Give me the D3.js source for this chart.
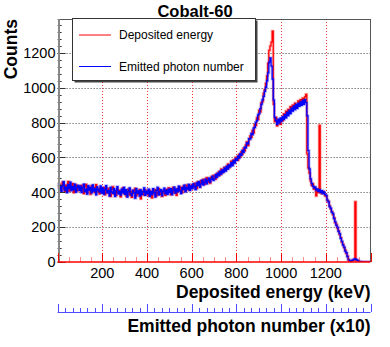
<!DOCTYPE html>
<html lang="en">
<head>
<meta charset="utf-8">
<title>Cobalt-60</title>
<script src="https://d3js.org/d3.v7.min.js"></script>
<style>
  body { margin: 0; background: #fff; }
  text { font-family: "Liberation Sans", Arial, Helvetica, sans-serif; }
</style>
</head>
<body>
<div id="chart"></div>
<script>
// ---- data (5 keV bins from 0 to 1400 keV, one row = 100 keV) ----
let binWidth = 5;
let energyMax = 1400;

// red histogram: deposited energy
let depositedCounts = [
  426, 449, 411, 437, 458, 420, 404, 441, 429, 462, 407, 434, 417, 450, 398, 426, 443, 408, 431, 422,
  409, 440, 418, 393, 431, 446, 401, 425, 413, 389, 437, 410, 428, 399, 444, 406, 420, 391, 425, 414,
  401, 429, 386, 412, 395, 423, 407, 377, 416, 432, 390, 408, 382, 420, 398, 411, 374, 403, 425, 392,
  409, 379, 397, 418, 384, 405, 371, 412, 394, 423, 380, 401, 389, 416, 362, 399, 407, 385, 414, 391,
  405, 383, 412, 396, 368, 407, 391, 415, 380, 398, 421, 387, 404, 376, 410, 395, 383, 417, 402, 426,
  411, 386, 404, 428, 397, 415, 383, 422, 407, 431, 414, 398, 435, 420, 408, 442, 425, 413, 438, 423,
  444, 426, 451, 437, 422, 460, 445, 431, 468, 452, 475, 446, 463, 484, 458, 471, 452, 488, 476, 497,
  489, 476, 507, 493, 518, 500, 534, 512, 522, 545, 527, 538, 562, 541, 555, 579, 558, 586, 574, 601,
  596, 585, 617, 603, 634, 619, 652, 638, 672, 690, 668, 702, 724, 716, 755, 741, 790, 784, 828, 818,
  870, 862, 915, 921, 968, 990, 1025, 1068, 1140, 1215, 1240, 1262, 1325, 905, 805, 830, 782, 808, 815, 790,
  826, 812, 850, 833, 866, 845, 877, 858, 892, 870, 901, 880, 912, 889, 898, 925, 905, 932, 912, 941,
  920, 948, 962, 620, 540, 510, 465, 440, 448, 418, 426, 380, 415, 398, 785, 402, 392, 405, 395, 380,
  378, 352, 348, 322, 305, 290, 272, 255, 226, 218, 195, 180, 158, 140, 114, 102, 82, 68, 50, 34,
  12, 6, 4, 7, 10, 12, 346, 11, 7, 3, 1, 0, 0, 0, 0, 0, 0, 0, 0, 0
];

// blue histogram: emitted photon number
let photonCounts = [
  452, 418, 440, 405, 437, 461, 412, 430, 398, 445, 421, 458, 409, 433, 415, 447, 401, 428, 440, 411,
  436, 399, 425, 447, 404, 419, 390, 438, 412, 429, 396, 443, 407, 421, 385, 431, 414, 402, 437, 395,
  425, 389, 416, 438, 398, 410, 380, 429, 403, 394, 421, 376, 412, 433, 391, 405, 384, 419, 397, 428,
  388, 415, 372, 404, 426, 393, 381, 412, 399, 366, 421, 395, 408, 378, 414, 386, 402, 425, 383, 407,
  392, 418, 376, 405, 387, 421, 398, 373, 410, 429, 385, 402, 416, 381, 407, 424, 393, 411, 388, 419,
  398, 421, 387, 412, 430, 395, 418, 404, 436, 409, 392, 427, 415, 441, 403, 429, 418, 446, 411, 437,
  421, 448, 433, 416, 455, 438, 462, 429, 447, 470, 441, 458, 476, 449, 467, 482, 459, 474, 491, 468,
  478, 502, 486, 511, 495, 521, 504, 529, 515, 540, 522, 551, 533, 558, 546, 571, 553, 582, 567, 594,
  583, 608, 596, 622, 612, 641, 629, 660, 655, 684, 678, 709, 706, 738, 731, 768, 772, 801, 812, 845,
  852, 880, 905, 932, 951, 980, 1002, 1040, 1085, 1148, 1172, 1125, 1050, 930, 830, 812, 790, 820, 798, 826,
  808, 835, 818, 846, 827, 859, 840, 871, 852, 884, 866, 895, 874, 905, 882, 911, 893, 920, 899, 928,
  905, 932, 915, 840, 640, 535, 478, 452, 436, 425, 431, 412, 420, 405, 415, 398, 410, 392, 402, 388,
  382, 356, 345, 318, 309, 286, 279, 249, 231, 210, 201, 175, 163, 135, 119, 97, 86, 63, 54, 30,
  14, 8, 6, 9, 13, 17, 18, 14, 10, 5, 3, 2, 1, 0, 0, 0, 0, 0, 0, 0
];

let energyTicks = [200, 400, 600, 800, 1000, 1200];
let countTicks = [0, 200, 400, 600, 800, 1000, 1200];
let legendLabels = ["Deposited energy", "Emitted photon number"];
let legendColors = ["#ff0000", "#0000ff"];

// ---- layout ----
let width = 390, height = 347;
let frame = {left: 57.6, right: 370.5, top: 19, bottom: 262};

let svg = d3.select("#chart").append("svg")
  .attr("width", width)
  .attr("height", height);

let x = d3.scaleLinear().domain([0, energyMax]).range([frame.left, frame.right]);
let y = d3.scaleLinear().domain([0, 1395]).range([frame.bottom, frame.top]);

// clip for histograms
svg.append("clipPath").attr("id", "clip")
  .append("rect")
  .attr("x", frame.left).attr("y", frame.top)
  .attr("width", frame.right - frame.left).attr("height", frame.bottom - frame.top);

// ---- grid ----
svg.append("g").selectAll("line").data(countTicks.filter(d => d > 0)).join("line")
  .attr("x1", frame.left).attr("x2", frame.right)
  .attr("y1", d => Math.round(y(d)) + 0.5).attr("y2", d => Math.round(y(d)) + 0.5)
  .attr("stroke", "#444").attr("stroke-width", 1).attr("stroke-dasharray", "1,2");

svg.append("g").selectAll("line").data(energyTicks).join("line")
  .attr("x1", d => Math.round(x(d)) + 0.5).attr("x2", d => Math.round(x(d)) + 0.5)
  .attr("y1", frame.top).attr("y2", frame.bottom)
  .attr("stroke", "#f33").attr("stroke-width", 1).attr("stroke-dasharray", "1,2");

// ---- histograms ----
function stepPoints(values) {
  let pts = values.map((v, i) => [i * binWidth, v]);
  pts.push([energyMax, values[values.length - 1]]);
  return pts;
}

let step = d3.line()
  .x(d => x(d[0]))
  .y(d => y(d[1]))
  .curve(d3.curveStepAfter);

let plot = svg.append("g").attr("clip-path", "url(#clip)");

// pale halo underneath, then the line itself (red first, blue on top)
[[depositedCounts, "#ff0000"], [photonCounts, "#0000ff"]].forEach(function(s) {
  plot.append("path")
    .attr("d", step(stepPoints(s[0])))
    .attr("fill", "none").attr("stroke", s[1])
    .attr("stroke-width", 2.8).attr("stroke-opacity", 0.3);
  plot.append("path")
    .attr("d", step(stepPoints(s[0])))
    .attr("fill", "none").attr("stroke", s[1]).attr("stroke-width", 1.2);
});

// ---- frame ----
svg.append("line")
  .attr("x1", frame.left).attr("x2", frame.right)
  .attr("y1", frame.top + 0.5).attr("y2", frame.top + 0.5)
  .attr("stroke", "#555");
svg.append("line")
  .attr("x1", frame.right).attr("x2", frame.right)
  .attr("y1", frame.top).attr("y2", frame.bottom)
  .attr("stroke", "#555");

// ---- y axis (left) ----
let yMinor = d3.range(0, 1395, 40);
svg.append("g").selectAll("line").data(yMinor).join("line")
  .attr("x1", frame.left).attr("x2", d => frame.left + (d % 200 === 0 ? 8 : 4))
  .attr("y1", d => Math.round(y(d)) + 0.5).attr("y2", d => Math.round(y(d)) + 0.5)
  .attr("stroke", "#333");
svg.append("line")
  .attr("x1", 59).attr("x2", 59)
  .attr("y1", frame.top).attr("y2", frame.bottom)
  .attr("stroke", "#888").attr("stroke-width", 2);

svg.append("g").selectAll("text").data(countTicks).join("text")
  .attr("x", 55.5).attr("y", d => y(d))
  .attr("dy", "0.36em")
  .attr("text-anchor", "end")
  .attr("font-size", 14.5)
  .text(d => d);

svg.append("text")
  .attr("transform", "translate(17," + frame.top + ") rotate(-90)")
  .attr("text-anchor", "end")
  .attr("font-size", 17.5).attr("font-weight", "bold")
  .text("Counts");

// ---- x axis (deposited energy, red) ----
let xMinor = d3.range(0, energyMax + 1, 50);
svg.append("g").selectAll("line").data(xMinor).join("line")
  .attr("x1", d => Math.round(x(d)) + 0.5).attr("x2", d => Math.round(x(d)) + 0.5)
  .attr("y1", frame.bottom).attr("y2", d => frame.bottom - (d % 200 === 0 ? 9 : 5))
  .attr("stroke", "#f00")
  .attr("stroke-opacity", d => d % 200 === 0 ? 1 : 0.45);
svg.append("line")
  .attr("x1", frame.left).attr("x2", frame.right)
  .attr("y1", frame.bottom).attr("y2", frame.bottom)
  .attr("stroke", "#f00").attr("stroke-width", 1.5);

svg.append("g").selectAll("text").data(energyTicks).join("text")
  .attr("x", d => x(d)).attr("y", 277.5)
  .attr("text-anchor", "middle")
  .attr("font-size", 14.5)
  .text(d => d);

svg.append("text")
  .attr("x", frame.right).attr("y", 298)
  .attr("text-anchor", "end")
  .attr("font-size", 17.5).attr("font-weight", "bold")
  .text("Deposited energy (keV)");

// ---- second axis (emitted photon number, blue, no labels) ----
let photonAxisY = 312;
let p = d3.scaleLinear().domain([0, 42]).range([frame.left, frame.right]);
svg.append("g").selectAll("line").data(d3.range(0, 43, 1)).join("line")
  .attr("x1", d => Math.round(p(d)) + 0.5).attr("x2", d => Math.round(p(d)) + 0.5)
  .attr("y1", photonAxisY).attr("y2", d => photonAxisY - (d % 6 === 0 ? 8 : 4))
  .attr("stroke", "#4d4dff");
svg.append("line")
  .attr("x1", frame.left).attr("x2", frame.right)
  .attr("y1", photonAxisY + 0.5).attr("y2", photonAxisY + 0.5)
  .attr("stroke", "#4d4dff");

svg.append("text")
  .attr("x", frame.right).attr("y", 331.5)
  .attr("text-anchor", "end")
  .attr("font-size", 17.5).attr("font-weight", "bold")
  .text("Emitted photon number (x10)");

// ---- title ----
svg.append("text")
  .attr("x", 195).attr("y", 17)
  .attr("text-anchor", "middle")
  .attr("font-size", 16.5).attr("font-weight", "bold")
  .text("Cobalt-60");

// ---- legend ----
let legend = svg.append("g");
legend.append("rect")
  .attr("x", 74.5).attr("y", 20.5).attr("width", 183).attr("height", 62)
  .attr("fill", "#444");
legend.append("rect")
  .attr("x", 72.5).attr("y", 18.5).attr("width", 183).attr("height", 62)
  .attr("fill", "#fff").attr("stroke", "#333");

let legendY = d3.scalePoint().domain(legendLabels).range([35, 66.5]);
legend.selectAll("line").data(legendLabels).join("line")
  .attr("x1", 79).attr("x2", 111)
  .attr("y1", d => legendY(d)).attr("y2", d => legendY(d))
  .attr("stroke", (d, i) => legendColors[i]).attr("stroke-width", 1);
legend.selectAll("text").data(legendLabels).join("text")
  .attr("x", 119).attr("y", d => legendY(d))
  .attr("dy", "0.35em")
  .attr("font-size", 12)
  .text(d => d);
</script>
</body>
</html>
